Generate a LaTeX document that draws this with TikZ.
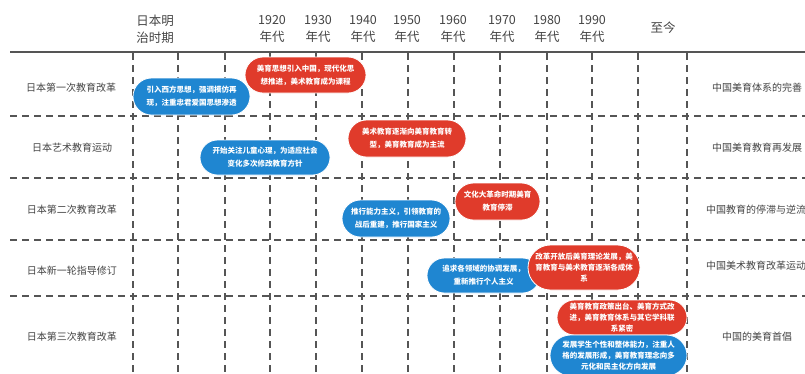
\documentclass[tikz,border=0pt]{standalone}
\usepackage{fontspec}
\setmainfont{Noto Sans CJK SC}
\usetikzlibrary{shapes.misc}
\definecolor{bblue}{HTML}{1F86D1}
\definecolor{bred}{HTML}{E03B2B}
\definecolor{gridc}{HTML}{555555}
\definecolor{txt}{HTML}{444444}
\tikzset{
  gridline/.style={draw=gridc,line width=1.8pt,dash pattern=on 7pt off 5pt},
  solidline/.style={draw=gridc,line width=1.5pt},
  hdr/.style={text=txt,font=\fontsize{12.5}{17}\selectfont,align=center,inner sep=0pt},
  rowlab/.style={text=txt,font=\fontsize{10}{12}\selectfont,inner sep=0pt},
  bubble/.style={rounded rectangle,draw=white,line width=0.8pt,text=white,align=center,inner sep=0pt,
     font=\fontsize{7.5}{13}\selectfont\bfseries},
  bubble3/.style={bubble,font=\fontsize{7.5}{11}\selectfont\bfseries},
  bluebub/.style={bubble,fill=bblue},
  redbub/.style={bubble,fill=bred},
}
\begin{document}
\begin{tikzpicture}[x=1pt,y=-1pt]
\useasboundingbox (0,0) rectangle (805,373);
\clip (0,0) rectangle (805,373);
\fill[white] (0,0) rectangle (805,373);
% headers
\node[hdr] (h0) at (155,29) {日本明\\治时期};
\node[hdr] (h1) at (272,29) {1920\\年代};
\node[hdr] (h2) at (318,29) {1930\\年代};
\node[hdr] (h3) at (363,29) {1940\\年代};
\node[hdr] (h4) at (407,29) {1950\\年代};
\node[hdr] (h5) at (453,29) {1960\\年代};
\node[hdr] (h6) at (502,29) {1970\\年代};
\node[hdr] (h7) at (547,29) {1980\\年代};
\node[hdr] (h8) at (592,29) {1990\\年代};
\node[hdr] (h9) at (663,28) {至今};
% grid
\foreach \x in {133,178,225,270,316,362,408,454,500,547,592,638,687}
  \draw[gridline] (\x,53) -- (\x,380);
\foreach \y in {116,178,240,296}
  \draw[gridline] (10,\y) -- (810,\y);
\draw[solidline] (10,52) -- (810,52);
% row labels
\node[rowlab] (l1) at (71,88) {日本第一次教育改革};
\node[rowlab] (l2) at (72,148) {日本艺术教育运动};
\node[rowlab] (l3) at (72,210) {日本第二次教育改革};
\node[rowlab] (l4) at (72,271) {日本新一轮指导修订};
\node[rowlab] (l5) at (72,337) {日本第三次教育改革};
\node[rowlab] (r1) at (757,88) {中国美育体系的完善};
\node[rowlab] (r2) at (757,148) {中国美育教育再发展};
\node[rowlab] (r3) at (756,210) {中国教育的停滞与逆流};
\node[rowlab] (r4) at (756,266) {中国美术教育改革运动};
\node[rowlab] (r5) at (757,337) {中国的美育首倡};
% bubbles
\node[bluebub,minimum width=117pt,minimum height=37pt] (b1) at (191.5,96.5) {引入西方思想，强调模仿再\\现，注重忠君爱国思想渗透};
\node[redbub,minimum width=121pt,minimum height=36pt] (b2) at (305.5,75) {美育思想引入中国，现代化思\\想推进，美术教育成为课程};
\node[bluebub,minimum width=130pt,minimum height=35pt] (b3) at (265,157.5) {开始关注儿童心理，为适应社会\\变化多次修改教育方针};
\node[redbub,minimum width=118pt,minimum height=37pt] (b4) at (407,138.5) {美术教育逐渐向美育教育转\\型，美育教育成为主流};
\node[bluebub,minimum width=108pt,minimum height=37pt] (b5) at (396,218.5) {推行能力主义，引领教育的\\战后重建，推行国家主义};
\node[redbub,minimum width=85pt,minimum height=37pt] (b6) at (497.5,201.5) {文化大革命时期美育\\教育停滞};
\node[bluebub,minimum width=113pt,minimum height=35pt] (b7) at (483.5,275.5) {追求各领域的协调发展，\\重新推行个人主义};
\node[redbub,bubble3,minimum width=112pt,minimum height=45pt] (b8) at (584,267.5) {改革开放后美育理论发展，美\\育教育与美术教育逐渐各成体\\系};
\node[redbub,bubble3,minimum width=130pt,minimum height=35pt] (b9) at (622,317.5) {美育教育政策出台、美育方式改\\进，美育教育体系与其它学科联\\系紧密};
\node[bluebub,bubble3,minimum width=137pt,minimum height=41pt] (b10) at (618.5,355.5) {发展学生个性和整体能力，注重人\\格的发展形成，美育教育理念向多\\元化和民主化方向发展};
\end{tikzpicture}
\end{document}
